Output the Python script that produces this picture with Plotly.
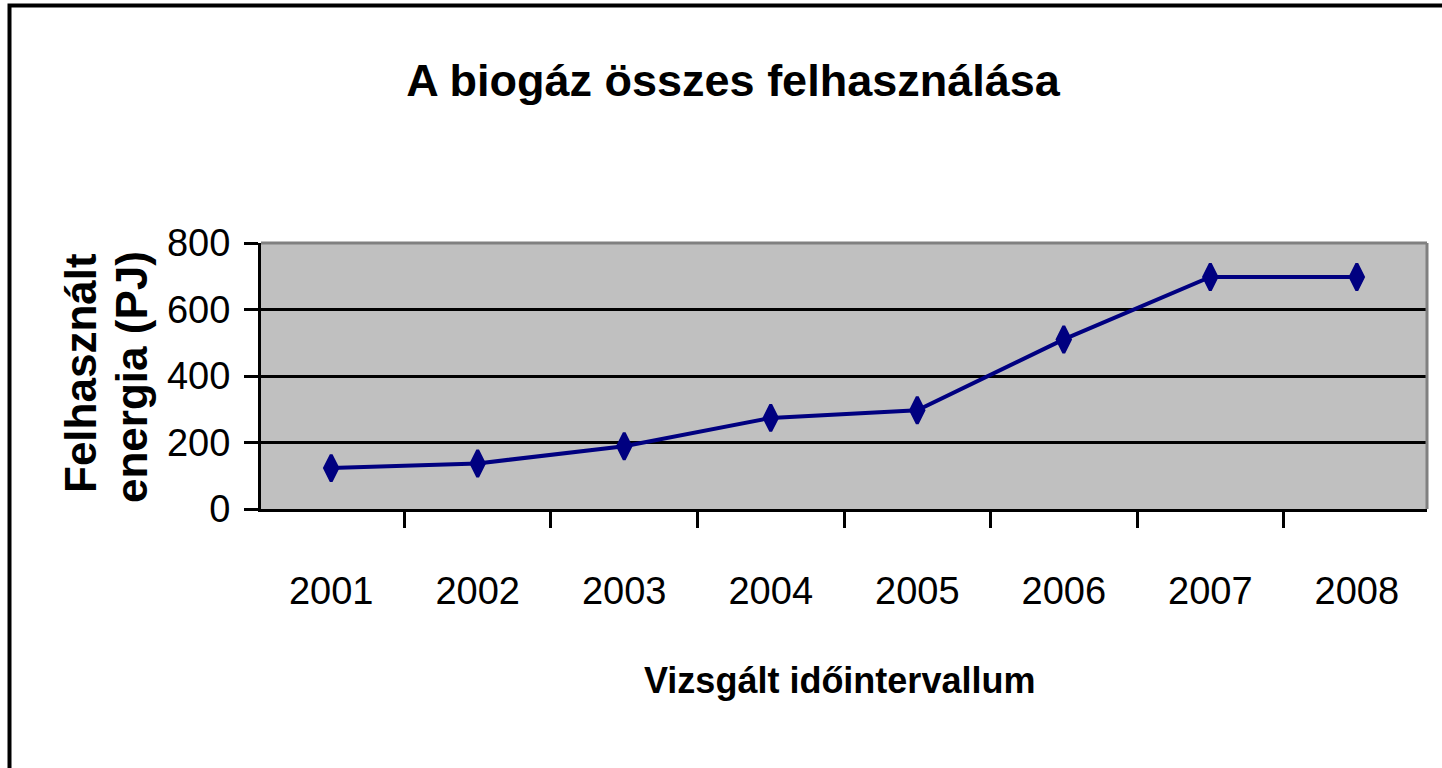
import plotly.graph_objects as go

# ---- data ----
years = ["2001", "2002", "2003", "2004", "2005", "2006", "2007", "2008"]
energy_pj = [123, 137, 189, 274, 297, 510, 698, 698]
y_ticks = [0, 200, 400, 600, 800]

title_text = "A biogáz összes felhasználása"
x_title = "Vizsgált időintervallum"
y_title_lines = ["Felhasznált", "energia (PJ)"]

ARIAL = "Liberation Sans, Arial, sans-serif"

W, H = 1442, 768
L, R, T, B = 261, 15, 243, 259
PW, PH = W - L - R, H - T - B

def px_x(px):
    return (px - L) / PW

def px_y(py):
    return (H - B - py) / PH

fig = go.Figure()
fig.add_trace(go.Scatter(
    x=years, y=energy_pj, mode="lines+markers",
    line=dict(color="#000080", width=4),
    marker=dict(symbol="diamond-tall", size=19, color="#000080",
                line=dict(color="#000080", width=3)),
    showlegend=False, hoverinfo="x+y",
))

fig.update_layout(
    width=W, height=H,
    margin=dict(l=L, r=R, t=T, b=B, pad=0),
    paper_bgcolor="white",
    plot_bgcolor="#C0C0C0",
    title=dict(text=title_text, x=733 / W, xanchor="center",
               y=1 - 80 / H, yanchor="middle", yref="container",
               font=dict(family=ARIAL, size=45, color="black", weight="bold")),
    xaxis=dict(
        type="category", tickson="boundaries", ticks="outside", ticklen=16,
        tickwidth=2.5, tickcolor="black", showline=True, linecolor="black",
        linewidth=3, showgrid=False, zeroline=False,
        tickfont=dict(family=ARIAL, size=38, color="black"),
        ticklabelstandoff=46,
    ),
    yaxis=dict(
        range=[0, 800], tickvals=y_ticks, ticks="outside", ticklen=14,
        tickwidth=2.5, tickcolor="black", showline=True, linecolor="black",
        linewidth=3, showgrid=True, gridcolor="black", gridwidth=3,
        zeroline=False,
        tickfont=dict(family=ARIAL, size=38, color="black"),
        ticklabelstandoff=6,
    ),
    shapes=[
        # top and right border of plot area (gray)
        dict(type="line", xref="paper", yref="paper", x0=0, x1=1, y0=1, y1=1,
             line=dict(color="#808080", width=3), layer="above"),
        dict(type="line", xref="paper", yref="paper", x0=1, x1=1, y0=0, y1=1,
             line=dict(color="#808080", width=3), layer="above"),
        # outer chart frame
        dict(type="rect", xref="paper", yref="paper",
             x0=px_x(9.5), x1=px_x(1460), y0=px_y(790), y1=px_y(5.5),
             line=dict(color="black", width=4), fillcolor="rgba(0,0,0,0)",
             layer="above"),
    ],
    annotations=[
        dict(text=x_title, xref="paper", yref="paper", x=px_x(839), y=px_y(680),
             xanchor="center", yanchor="middle", showarrow=False,
             font=dict(family=ARIAL, size=36, color="black", weight="bold")),
        dict(text=y_title_lines[0], xref="paper", yref="paper", x=px_x(80),
             y=px_y(373), xanchor="center", yanchor="middle", showarrow=False,
             textangle=-90,
             font=dict(family=ARIAL, size=44, color="black", weight="bold")),
        dict(text=y_title_lines[1], xref="paper", yref="paper", x=px_x(131),
             y=px_y(377), xanchor="center", yanchor="middle", showarrow=False,
             textangle=-90,
             font=dict(family=ARIAL, size=44, color="black", weight="bold")),
    ],
)

fig.write_html("out.html", config={"displayModeBar": False},
               post_script="document.body.style.margin='0';document.body.style.overflow='hidden';")
